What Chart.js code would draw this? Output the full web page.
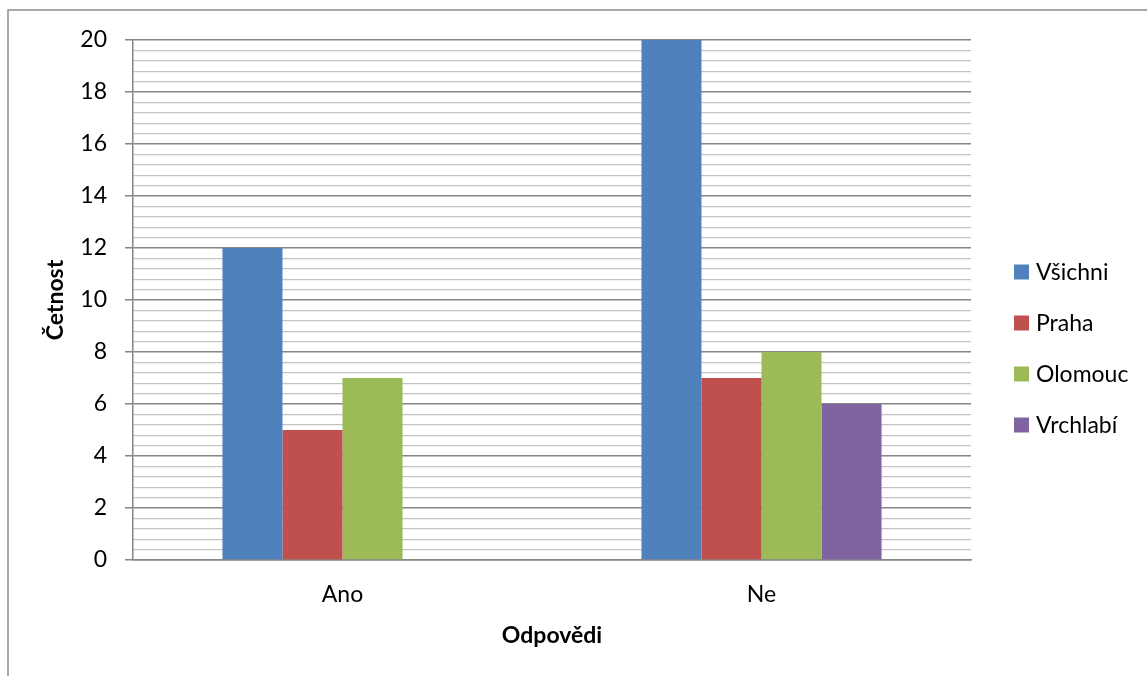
<!DOCTYPE html>
<html lang="cs">
<head>
<meta charset="utf-8">
<title>Četnost odpovědí</title>
<script src="https://cdn.jsdelivr.net/npm/chart.js@4"></script>
<style>
  html, body { margin: 0; padding: 0; background: #ffffff; }
  #wrap { position: relative; width: 1147px; height: 676px; }
</style>
</head>
<body>
<div id="wrap"><canvas id="chart" width="1147" height="676"></canvas></div>
<script>
// Answer categories and counts per group
const categories = ['Ano', 'Ne'];
const seriesNames = ['Všichni', 'Praha', 'Olomouc', 'Vrchlabí'];
const vsichni = [12, 20];
const praha = [5, 7];
const olomouc = [7, 8];
const vrchlabi = [0, 6];
const yMax = 20;
const yMajorStep = 2;
const yMinorStep = 0.4;

const colors = ['#4F81BD', '#C0504D', '#9BBB59', '#8064A2'];
const FONT = 'Lato, "Noto Sans", "DejaVu Sans", sans-serif';
const FONT_SIZE = 23;

const seriesValues = [vsichni, praha, olomouc, vrchlabi];

const isMajor = v => Math.abs(v / yMajorStep - Math.round(v / yMajorStep)) < 1e-6;

// Outer frame of the chart (left and top edges)
const framePlugin = {
  id: 'frame',
  beforeDraw(chart) {
    const ctx = chart.ctx;
    ctx.save();
    ctx.strokeStyle = '#8c8c8c';
    ctx.lineWidth = 1.5;
    ctx.beginPath();
    ctx.moveTo(8, chart.height);
    ctx.lineTo(8, 10);
    ctx.lineTo(chart.width, 10);
    ctx.stroke();
    ctx.restore();
  }
};

// Legend drawn as a column to the right of the plot
const sideLegend = {
  id: 'sideLegend',
  afterDraw(chart) {
    const ctx = chart.ctx;
    const x = chart.chartArea.right + 43;
    const y0 = 272;
    const step = 51;
    ctx.save();
    ctx.font = FONT_SIZE + 'px ' + FONT;
    ctx.textBaseline = 'middle';
    ctx.textAlign = 'left';
    chart.data.datasets.forEach((ds, i) => {
      const cy = y0 + i * step;
      ctx.fillStyle = ds.backgroundColor;
      ctx.fillRect(x, cy - 7.5, 15, 15);
      ctx.fillStyle = '#000000';
      ctx.fillText(ds.label, x + 22, cy + 1);
    });
    ctx.restore();
  }
};

const chart = new Chart(document.getElementById('chart'), {
  type: 'bar',
  data: {
    labels: categories,
    datasets: seriesNames.map((name, i) => ({
      label: name,
      data: seriesValues[i],
      backgroundColor: colors[i],
      borderWidth: 0,
      categoryPercentage: 0.573,
      barPercentage: 1.0
    }))
  },
  options: {
    responsive: false,
    animation: false,
    layout: { padding: { left: 0, right: 176, top: 40, bottom: 0 } },
    plugins: {
      legend: { display: false },
      tooltip: { enabled: false }
    },
    scales: {
      x: {
        grid: { display: false },
        border: { display: true, color: '#868686', width: 1.5 },
        ticks: { color: '#000000', font: { family: FONT, size: FONT_SIZE }, padding: 13 },
        title: {
          display: true, text: 'Odpovědi', color: '#000000',
          font: { family: FONT, size: FONT_SIZE, weight: 'bold' },
          padding: { top: 0, bottom: 27 }
        },
        afterFit(scale) { scale.height = 676 - 560; }
      },
      y: {
        min: 0,
        max: yMax,
        ticks: {
          stepSize: yMinorStep,
          autoSkip: false,
          color: '#000000',
          font: { family: FONT, size: FONT_SIZE },
          padding: 18,
          callback: v => isMajor(v) ? String(Math.round(v)) : ''
        },
        grid: {
          drawTicks: true,
          tickLength: 8,
          color: ctx => isMajor(ctx.tick.value) ? '#868686' : '#c4c4c4',
          lineWidth: ctx => isMajor(ctx.tick.value) ? 1.5 : 1.2,
          tickColor: ctx => isMajor(ctx.tick.value) ? '#868686' : 'rgba(0,0,0,0)'
        },
        border: { display: true, color: '#868686', width: 1.5 },
        title: {
          display: true, text: 'Četnost', color: '#000000',
          font: { family: FONT, size: FONT_SIZE, weight: 'bold' },
          padding: { top: 42, bottom: 0 }
        },
        afterFit(scale) { scale.width = 133; }
      }
    }
  },
  plugins: [framePlugin, sideLegend]
});
</script>
</body>
</html>
